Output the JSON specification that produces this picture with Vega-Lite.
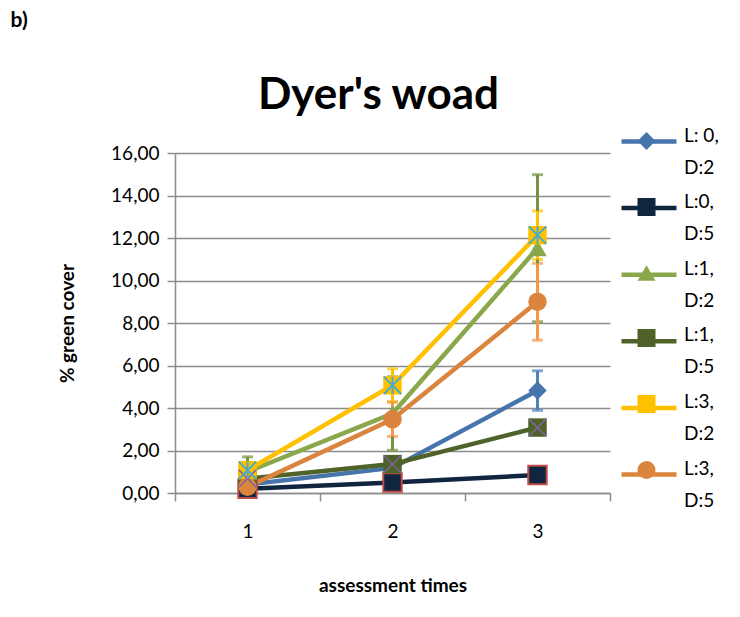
{
  "$schema": "https://vega.github.io/schema/vega-lite/v6.json",
  "padding": {"left": 10, "top": 10, "right": 0, "bottom": 0},
  "background": "white",
  "title": {"text": "b)", "anchor": "start", "frame": "bounds", "fontSize": 21, "fontWeight": "bold", "font": "Lato", "color": "black", "dx": -48, "offset": 43},
  "config": {
    "view": {"stroke": null},
    "font": "Lato",
    "axis": {"labelFont": "Lato", "labelFontSize": 19, "labelColor": "black", "titleFont": "Lato", "titleFontSize": 19, "titleFontWeight": "bold", "titleColor": "black", "domainColor": "#8C8C8C", "domainWidth": 1.5, "tickColor": "#8C8C8C", "tickWidth": 1.5, "tickSize": 8, "gridColor": "#8C8C8C", "gridWidth": 1.5, "gridOpacity": 1},
    "style": {"guide-label": {"lineHeight": 32}}
  },
  "vconcat": [
    {
      "width": 435,
      "height": 340,
      "title": {"text": "Dyer's woad", "fontSize": 44, "font": "Lato", "fontWeight": "bold", "anchor": "middle", "dx": -14, "offset": 26, "color": "black"},
      "data": {"values": [
        {"series": "L: 0, D:2", "time": 1, "cover": 0.40, "err": 0.10},
        {"series": "L: 0, D:2", "time": 2, "cover": 1.18, "err": 0.15},
        {"series": "L: 0, D:2", "time": 3, "cover": 4.82, "err": 0.93},
        {"series": "L:0, D:5", "time": 1, "cover": 0.20, "err": 0.05},
        {"series": "L:0, D:5", "time": 2, "cover": 0.49, "err": 0.10},
        {"series": "L:0, D:5", "time": 3, "cover": 0.85, "err": 0.10},
        {"series": "L:1, D:2", "time": 1, "cover": 1.00, "err": 0.70},
        {"series": "L:1, D:2", "time": 2, "cover": 3.74, "err": 1.73},
        {"series": "L:1, D:2", "time": 3, "cover": 11.52, "err": 3.46},
        {"series": "L:1, D:5", "time": 1, "cover": 0.68, "err": 0.10},
        {"series": "L:1, D:5", "time": 2, "cover": 1.36, "err": 0.20},
        {"series": "L:1, D:5", "time": 3, "cover": 3.08, "err": 0.20},
        {"series": "L:3, D:2", "time": 1, "cover": 1.07, "err": 0.30},
        {"series": "L:3, D:2", "time": 2, "cover": 5.07, "err": 0.78},
        {"series": "L:3, D:2", "time": 3, "cover": 12.13, "err": 1.14},
        {"series": "L:3, D:5", "time": 1, "cover": 0.29, "err": 0.10},
        {"series": "L:3, D:5", "time": 2, "cover": 3.47, "err": 0.81},
        {"series": "L:3, D:5", "time": 3, "cover": 9.00, "err": 1.81}
      ]},
      "encoding": {
        "x": {"field": "time", "type": "quantitative", "scale": {"domain": [0.5, 3.5], "nice": false, "zero": false},
          "axis": {"values": [0.5, 1.5, 2.5, 3.5], "labelExpr": "datum.value < 3 ? format(datum.value + 0.5, 'd') : ''", "labelOffset": 72.5, "labelPadding": 21, "title": "assessment times", "titlePadding": 35, "grid": false, "labelFlush": false, "labelOverlap": false, "labelBound": false}},
        "y": {"field": "cover", "type": "quantitative", "scale": {"domain": [0, 16], "nice": false},
          "axis": {"values": [0, 2, 4, 6, 8, 10, 12, 14, 16], "labelExpr": "replace(format(datum.value, '.2f'), '.', ',')", "title": "% green cover", "titlePadding": 33, "labelPadding": 8, "grid": true}}
      },
      "layer": [
        {
          "mark": {"type": "errorbar", "ticks": true, "size": 11, "thickness": 3},
          "encoding": {
            "yError": {"field": "err"},
            "color": {"field": "series", "type": "nominal", "scale": {"range": ["#4F81BD", "#10253F", "#77933C", "#4F6228", "#FFC000", "#F79646"]}, "legend": null}
          }
        },
        {
          "mark": {"type": "line", "strokeWidth": 4.5, "strokeCap": "round"},
          "encoding": {
            "stroke": {"field": "series", "type": "nominal",
              "scale": {"domain": ["L: 0, D:2", "L:0, D:5", "L:1, D:2", "L:1, D:5", "L:3, D:2", "L:3, D:5"], "range": ["#4674AB", "#10253F", "#8AA84B", "#4F6228", "#FFC000", "#DB843D"]},
              "legend": {"orient": "none", "legendX": 444, "legendY": -41.5, "title": null, "symbolType": "stroke", "symbolSize": 3025, "symbolStrokeWidth": 4.5,
                "labelExpr": "[substring(datum.label, 0, indexof(datum.label, ',') + 1), substring(datum.label, indexof(datum.label, ',') + 2)]",
                "labelFont": "Lato", "labelFontSize": 19, "labelColor": "black", "labelOffset": 5, "labelBaseline": "alphabetic", "rowPadding": 0.6, "padding": 0, "labelLimit": 200}}
          }
        },
        {
          "mark": {"type": "point", "filled": true, "opacity": 1, "size": 340},
          "encoding": {
            "fill": {"field": "series", "type": "nominal", "scale": {"range": ["#4674AB", "#10253F", "#8AA84B", "#4F6228", "#FFC000", "#DB843D"]},
              "legend": {"orient": "none", "legendX": 444, "legendY": -21, "title": null, "symbolSize": 324, "symbolStrokeWidth": 0, "symbolOffset": 18.5,
                "labelExpr": "''", "labelOffset": 0, "rowPadding": 48, "padding": 0}},
            "shape": {"field": "series", "type": "nominal", "scale": {"range": ["diamond", "square", "triangle-up", "square", "square", "circle"]}},
            "stroke": {"condition": {"test": "datum.series === 'L:0, D:5'", "value": "#BE4B48"}, "value": "transparent"},
            "strokeWidth": {"value": 2}
          }
        },
        {
          "transform": [{"filter": "datum.series === 'L:1, D:5'"}],
          "mark": {"type": "point", "shape": "M-1,-1L1,1M-1,1L1,-1", "filled": false, "stroke": "#8064A2", "strokeWidth": 1.5, "size": 300, "opacity": 1}
        },
        {
          "transform": [{"filter": "datum.series === 'L:3, D:2'"}],
          "mark": {"type": "point", "shape": "M-1,-1L1,1M-1,1L1,-1M0,-1L0,1", "filled": false, "stroke": "#4BACC6", "strokeWidth": 2, "size": 300, "opacity": 1}
        }
      ],
      "resolve": {"scale": {"color": "independent"}}
    }
  ]
}
